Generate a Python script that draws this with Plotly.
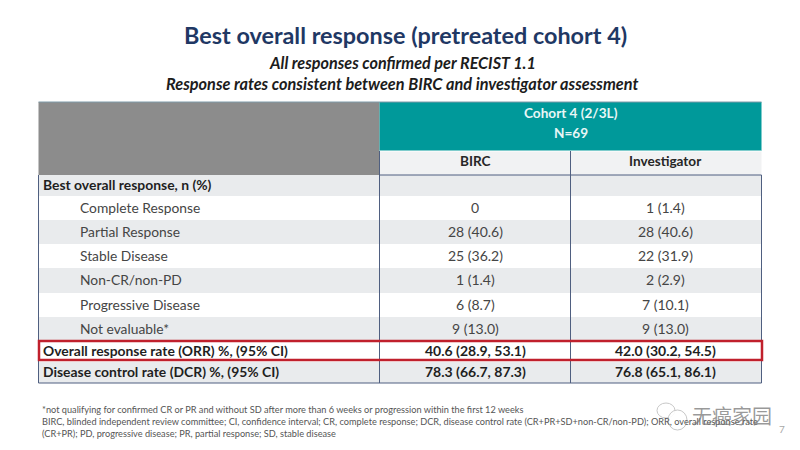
"""Best overall response table, drawn on a pixel-sized plotly canvas."""

import plotly.graph_objects as go

# table content
row_labels = [
    "Best overall response, n (%)",
    "Complete Response",
    "Partial Response",
    "Stable Disease",
    "Non-CR/non-PD",
    "Progressive Disease",
    "Not evaluable*",
    "Overall response rate (ORR) %, (95% CI)",
    "Disease control rate (DCR) %, (95% CI)",
]
birc_values = ["", "0", "28 (40.6)", "25 (36.2)", "1 (1.4)", "6 (8.7)", "9 (13.0)",
               "40.6 (28.9, 53.1)", "78.3 (66.7, 87.3)"]
investigator_values = ["", "1 (1.4)", "28 (40.6)", "22 (31.9)", "2 (2.9)", "7 (10.1)", "9 (13.0)",
                       "42.0 (30.2, 54.5)", "76.8 (65.1, 86.1)"]
column_names = ["BIRC", "Investigator"]
footnotes = [
    "*not qualifying for confirmed CR or PR and without SD after more than 6 weeks or progression within the first 12 weeks",
    "BIRC, blinded independent review committee; CI, confidence interval; CR, complete response; DCR, disease control rate (CR+PR+SD+non-CR/non-PD); ORR, overall response rate",
    "(CR+PR); PD, progressive disease; PR, partial response; SD, stable disease",
]

# layout of the table in pixels
FONT = "Lato"
PAGE_MARGIN = 8  # the browser's default body margin pushes the plot in
TABLE_LEFT, COL_1, COL_2, TABLE_RIGHT = 38.5, 379.5, 570.5, 761.5
row_edges = [175, 196, 220, 244, 268, 293, 317, 341, 362, 383]
row_fills = ["#e9ebed", "#ffffff", "#e9ebed", "#ffffff", "#e9ebed", "#ffffff", "#e9ebed", "#ffffff", "#e9ebed"]
TEXT_DARK = "#262626"
TEXT_GREY = "#454545"
LINE = "#4f5f80"

fig = go.Figure()
shapes = []
annotations = []


def rect(x0, y0, x1, y1, fill, line=None, width=0):
    shapes.append(dict(type="rect", x0=x0, y0=y0, x1=x1, y1=y1, fillcolor=fill,
                       line=dict(color=line or fill, width=width)))


def vline(x, y0, y1, color=LINE, width=1):
    shapes.append(dict(type="line", x0=x, x1=x, y0=y0, y1=y1, line=dict(color=color, width=width)))


def text(x, y, s, size, color=TEXT_DARK, anchor="center", bold=False, italic=False, family=FONT):
    if bold:
        s = f"<b>{s}</b>"
    if italic:
        s = f"<i>{s}</i>"
    annotations.append(dict(x=x, y=y, text=s, showarrow=False, xanchor=anchor, yanchor="middle",
                            font=dict(family=family, size=size, color=color)))


# header blocks
rect(TABLE_LEFT, 102, COL_1, 175, "#8c8c8c")
rect(COL_1, 102, TABLE_RIGHT, 151, "#00999a")
rect(COL_1, 151, TABLE_RIGHT, 175, "#f1f2f3")
shapes.append(dict(type="line", x0=TABLE_LEFT, x1=TABLE_RIGHT, y0=102, y1=102, line=dict(color="#7f9aa8", width=1)))
text((COL_1 + TABLE_RIGHT) / 2, 113, "Cohort 4 (2/3L)", 13.6, "#e8f6f6", bold=True)
text((COL_1 + TABLE_RIGHT) / 2, 133, "N=69", 13.6, "#e8f6f6", bold=True)
for i, name in enumerate(column_names):
    text([475, 665][i], 161, name, 13.6, TEXT_DARK, bold=True)

# body rows
for i, label in enumerate(row_labels):
    y0, y1 = row_edges[i], row_edges[i + 1]
    mid = (y0 + y1) / 2 - 1
    rect(TABLE_LEFT, y0, TABLE_RIGHT, y1, row_fills[i])
    emphasised = i == 0 or i >= 7
    if emphasised:
        text(41, mid, label, 13.9, "#1f1f1f", anchor="left", bold=True)
    else:
        text(78, mid, label, 13.8, TEXT_GREY, anchor="left")
    text(475, mid, birc_values[i], 14, "#1f1f1f" if emphasised else TEXT_GREY, bold=emphasised)
    text(665, mid, investigator_values[i], 14, "#1f1f1f" if emphasised else TEXT_GREY, bold=emphasised)

# grid lines
shapes.append(dict(type="line", x0=TABLE_LEFT, x1=TABLE_RIGHT, y0=383, y1=383, line=dict(color=LINE, width=1)))
shapes.append(dict(type="line", x0=COL_1, x1=TABLE_RIGHT, y0=175, y1=175, line=dict(color=LINE, width=1)))
shapes.append(dict(type="line", x0=COL_1, x1=TABLE_RIGHT, y0=151, y1=151, line=dict(color="#ffffff", width=1)))
vline(TABLE_LEFT, 175, 383)
vline(COL_1, 151, 383)
vline(COL_2, 151, 383)
vline(TABLE_RIGHT, 175, 383)

# red box around ORR
shapes.append(dict(type="rect", x0=39, y0=341, x1=762, y1=360, line=dict(color="#c0202c", width=2.5)))

# titles
text(405, 35, "Best overall response (pretreated cohort 4)", 23.4, "#1f3864", bold=True)
text(402, 62, "All responses confirmed per RECIST 1.1", 16.2, "#1c1c1c", bold=True, italic=True)
text(402, 83, "Response rates consistent between BIRC and investigator assessment", 16.3, "#1c1c1c", bold=True, italic=True)

# footnotes
for y, line in zip([409, 421, 433], footnotes):
    text(40, y, line, 9.2, "#555555", anchor="left")

# watermark and page number
shapes.append(dict(type="circle", x0=657, y0=403, x1=675, y1=418, fillcolor="rgba(255,255,255,0.85)",
                   line=dict(color="#c8c8c8", width=1)))
shapes.append(dict(type="circle", x0=668, y0=410, x1=687, y1=430, fillcolor="rgba(255,255,255,0.9)",
                   line=dict(color="#c8c8c8", width=1)))
text(732, 415, "无癌家园", 20, "rgba(120,120,120,0.75)", family="Noto Sans CJK SC")
text(782, 429, "7", 10, "#a8a8a8")

fig.update_layout(
    width=800 - PAGE_MARGIN,
    height=450 - PAGE_MARGIN,
    margin=dict(l=0, r=0, t=0, b=0),
    paper_bgcolor="#ffffff",
    plot_bgcolor="#ffffff",
    showlegend=False,
    shapes=shapes,
    annotations=annotations,
    xaxis=dict(range=[PAGE_MARGIN, 800], visible=False, fixedrange=True),
    yaxis=dict(range=[450, PAGE_MARGIN], visible=False, fixedrange=True),
)

fig.write_html("out.html")
